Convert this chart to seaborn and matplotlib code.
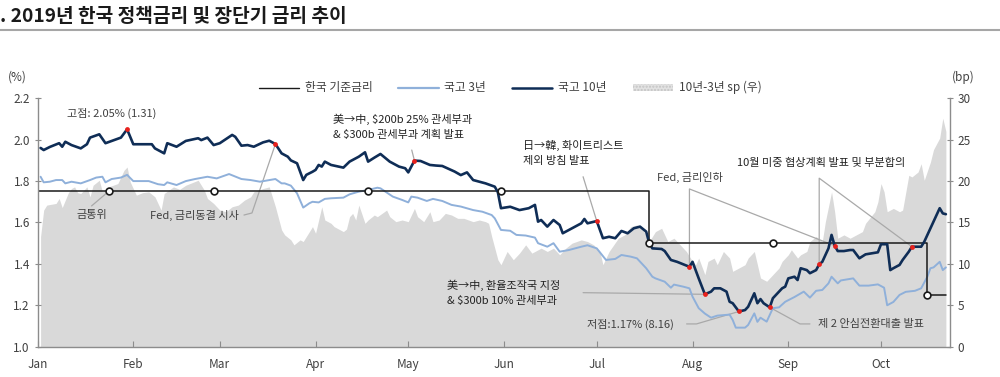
import numpy as np
import pandas as pd
import matplotlib
matplotlib.use('Agg')
import matplotlib.pyplot as plt
import matplotlib.dates as mdates
from matplotlib.lines import Line2D
from matplotlib.patches import Patch
from matplotlib.ticker import FormatStrFormatter
import seaborn as sns

sns.set_theme(style='white')
plt.rcParams['font.family'] = ['Noto Sans CJK KR', 'DejaVu Sans']
plt.rcParams['axes.unicode_minus'] = False

YEAR = '2019-'

# ---------------- data ----------------
ktb10_dates = ['01-02','01-03','01-05','01-08','01-09','01-10','01-12','01-15','01-17','01-18','01-21','01-23','01-25','01-28','01-30',
               '02-01','02-07','02-08','02-11','02-12','02-15','02-18','02-22','02-23','02-25','02-27',
               '03-01','03-05','03-06','03-08','03-10','03-12','03-15','03-17','03-19','03-21','03-23','03-24','03-26','03-28','03-29','03-31',
               '04-01','04-02','04-03','04-04','04-06','04-10','04-12','04-15','04-17','04-18','04-20','04-22','04-25','04-28','04-30',
               '05-01','05-03','05-05','05-08','05-10','05-12','05-16','05-18','05-20','05-22','05-24','05-26','05-29','05-30','05-31',
               '06-03','06-06','06-09','06-11','06-12','06-13','06-15','06-17','06-19','06-20','06-22','06-24','06-26','06-27','06-28',
               '07-01','07-03','07-05','07-07','07-09','07-11','07-13','07-15','07-17','07-18','07-19','07-22','07-23','07-25','07-27','07-31',
               '08-01','08-02','08-03','08-05','08-07','08-08','08-10','08-12','08-13','08-14','08-16','08-18','08-19','08-20','08-21','08-22',
               '08-23','08-24','08-26','08-27','08-28','08-30','08-31',
               '09-01','09-03','09-04','09-05','09-07','09-08','09-10','09-11','09-12','09-14','09-15','09-16','09-17','09-19','09-21','09-22',
               '09-24','09-26','09-28','09-30',
               '10-01','10-03','10-04','10-05','10-07','10-08','10-10','10-11','10-12','10-14','10-15','10-17','10-18','10-20','10-21','10-22']
ktb10_vals = [1.96,1.95,1.965,1.983,1.966,1.99,1.974,1.958,1.978,2.01,2.026,1.983,1.994,2.01,2.05,
              1.978,1.978,1.958,1.934,1.983,1.966,1.994,2.007,1.998,2.01,1.974,
              1.983,2.023,2.014,1.971,1.974,1.966,1.987,1.995,1.979,1.934,1.918,1.90,1.886,1.805,1.83,1.845,
              1.854,1.878,1.87,1.894,1.878,1.865,1.894,1.918,1.939,1.894,1.913,1.931,1.894,1.87,1.862,
              1.842,1.899,1.897,1.878,1.875,1.873,1.846,1.829,1.842,1.805,1.797,1.789,1.773,1.746,1.669,
              1.676,1.66,1.669,1.685,1.604,1.612,1.58,1.612,1.588,1.548,1.564,1.58,1.596,1.617,1.596,
              1.607,1.524,1.531,1.524,1.559,1.548,1.572,1.58,1.556,1.50,1.475,1.472,1.462,1.419,1.41,1.386,
              1.41,1.37,1.33,1.253,1.266,1.282,1.282,1.266,1.217,1.21,1.17,1.177,1.193,1.226,1.258,1.21,
              1.23,1.21,1.19,1.234,1.25,1.282,1.29,
              1.33,1.338,1.322,1.379,1.37,1.355,1.37,1.398,1.41,1.475,1.54,1.488,1.462,1.462,1.467,1.467,
              1.427,1.446,1.451,1.456,
              1.495,1.495,1.37,1.379,1.395,1.419,1.459,1.483,1.483,1.483,1.507,1.572,1.604,1.669,1.644,1.64]

ktb3_dates = ['01-02','01-03','01-05','01-07','01-09','01-10','01-12','01-15','01-18','01-20','01-22','01-23','01-25','01-28','01-30',
              '02-01','02-06','02-09','02-11','02-12','02-15','02-18','02-21','02-25','02-28',
              '03-04','03-08','03-11','03-14','03-17','03-19','03-21','03-22','03-24','03-26','03-28','03-30','03-31',
              '04-02','04-04','04-06','04-10','04-12','04-15','04-18','04-21','04-22','04-26','04-29',
              '05-01','05-02','05-04','05-07','05-09','05-12','05-15','05-18','05-22','05-25','05-28','05-29','05-31',
              '06-03','06-05','06-08','06-11','06-12','06-15','06-17','06-19','06-22','06-26','06-28',
              '07-01','07-04','07-07','07-09','07-12','07-14','07-17','07-19','07-20','07-23','07-25','07-26','07-29','07-31',
              '08-01','08-03','08-05','08-07','08-09','08-13','08-14','08-15','08-18','08-19','08-21','08-22','08-23','08-25','08-27','08-29','08-31',
              '09-03','09-06','09-08','09-10','09-12','09-14','09-15','09-17','09-18','09-22','09-24','09-27','09-30',
              '10-02','10-03','10-05','10-07','10-09','10-12','10-14','10-16','10-17','10-18','10-20','10-21','10-22']
ktb3_vals = [1.821,1.794,1.797,1.805,1.805,1.789,1.797,1.789,1.805,1.817,1.821,1.794,1.81,1.817,1.83,
             1.80,1.80,1.785,1.781,1.794,1.781,1.80,1.81,1.821,1.813,
             1.834,1.81,1.805,1.797,1.805,1.81,1.789,1.789,1.778,1.741,1.672,1.693,1.70,
             1.697,1.714,1.717,1.72,1.736,1.749,1.757,1.768,1.765,1.725,1.709,
             1.697,1.725,1.72,1.704,1.714,1.704,1.685,1.677,1.66,1.652,1.636,1.62,1.564,
             1.56,1.54,1.537,1.527,1.50,1.483,1.50,1.459,1.467,1.483,1.49,
             1.475,1.419,1.424,1.443,1.435,1.427,1.379,1.338,1.33,1.314,1.285,1.30,1.29,1.282,
             1.242,1.186,1.16,1.14,1.15,1.155,1.129,1.092,1.092,1.105,1.161,1.12,1.14,1.121,1.186,1.19,1.217,
             1.24,1.266,1.237,1.27,1.274,1.306,1.338,1.306,1.32,1.33,1.295,1.295,1.301,
             1.285,1.20,1.216,1.25,1.265,1.27,1.282,1.338,1.379,1.383,1.41,1.37,1.383]

spread_dates = ['01-02','01-03','01-04','01-07','01-08','01-09','01-11','01-12','01-13','01-14','01-15','01-17','01-18','01-19','01-21',
                '01-22','01-24','01-27','01-29','01-30','01-31',
                '02-02','02-04','02-06','02-08','02-10','02-11','02-14','02-16','02-18','02-20','02-22','02-24','02-25','02-27',
                '03-01','03-03','03-05','03-07','03-09','03-11','03-12','03-15','03-17','03-18','03-19','03-21','03-22','03-24','03-25',
                '03-27','03-28','03-29','03-31',
                '04-01','04-03','04-04','04-06','04-07','04-10','04-11','04-12','04-13','04-14','04-15','04-17','04-18','04-20','04-21',
                '04-24','04-25','04-27','04-29',
                '05-01','05-03','05-04','05-06','05-08','05-09','05-11','05-13','05-15','05-17','05-19','05-22','05-24','05-26','05-27',
                '05-28','05-30','05-31',
                '06-02','06-04','06-06','06-08','06-10','06-13','06-15','06-17','06-19','06-21','06-23','06-26','06-28','06-30',
                '07-02','07-03','07-05','07-08','07-10','07-12','07-14','07-16','07-18','07-20','07-22','07-23','07-24','07-26','07-28','07-30',
                '08-01','08-02','08-03','08-05','08-06','08-08','08-09','08-11','08-13','08-14','08-16','08-18','08-19','08-21','08-22',
                '08-23','08-25','08-27','08-29','08-30',
                '09-01','09-02','09-04','09-05','09-07','09-08','09-10','09-12','09-13','09-15','09-16','09-17','09-19','09-21','09-23',
                '09-25','09-26','09-29','09-30',
                '10-01','10-02','10-03','10-05','10-07','10-08','10-10','10-11','10-13','10-14','10-15','10-17','10-18','10-20','10-21','10-22']
spread_vals = [13.3,16.5,17.1,17.3,17.9,16.8,18.6,19.1,19.3,18.6,18.5,19.3,18.1,19.5,20.1,
               18.7,19.3,19.7,21.3,21.7,19.9,
               18.3,18.6,18.7,18.1,16.5,18.5,19.3,19.0,19.5,19.8,20.1,18.9,17.9,17.3,
               16.5,16.3,16.9,17.1,17.7,18.1,18.7,19.1,19.3,18.1,16.9,14.1,13.5,12.9,12.3,
               12.9,12.7,13.3,14.5,
               13.7,16.9,15.3,14.9,14.5,13.9,14.2,15.7,16.1,15.3,17.1,14.9,15.3,15.9,15.7,
               16.5,15.7,15.1,15.3,
               15.1,16.7,15.7,15.1,16.3,15.1,15.3,16.1,15.9,15.5,15.5,15.1,15.3,15.1,14.9,
               13.3,10.5,9.9,
               11.5,10.5,11.3,12.3,11.3,11.9,11.5,11.9,11.1,11.9,12.5,12.9,12.7,12.3,
               11.5,9.9,11.5,13.1,13.5,14.5,14.7,14.1,12.7,13.9,14.3,13.5,12.7,13.1,12.3,11.5,
               10.3,9.9,10.7,8.7,10.3,10.7,9.9,11.5,10.7,9.1,9.5,9.9,10.7,11.5,9.9,
               8.3,7.9,8.7,9.5,10.3,
               11.1,11.7,10.7,11.1,11.5,12.7,13.3,12.7,15.1,18.7,16.3,13.1,13.5,13.1,13.5,
               13.9,14.9,16.3,17.5,
               19.7,18.7,16.3,16.7,16.3,16.5,20.7,20.5,21.1,22.1,20.1,22.3,23.8,25.2,27.6,26.0]

policy_dates = ['01-01', '07-18', '10-16', '10-22']
policy_vals = [1.75, 1.50, 1.25, 1.25]

mpc_dates = ['01-24', '02-27', '04-18', '05-31', '07-18', '08-27', '10-16']   # 금통위
event_dates = ['01-30', '03-19', '05-03', '07-01', '07-31', '08-05', '08-16', '08-26', '09-11', '09-16', '10-11']

left_ticks = [1.0, 1.2, 1.4, 1.6, 1.8, 2.0, 2.2]
right_ticks = [0, 5, 10, 15, 20, 25, 30]

legend_labels = ['한국 기준금리', '국고 3년', '국고 10년', '10년-3년 sp (우)']
title_text = '. 2019년 한국 정책금리 및 장단기 금리 추이'

# ---------------- helpers ----------------
def T(s):
    return pd.Timestamp(YEAR + s)

k10_dt = pd.to_datetime([YEAR + d for d in ktb10_dates])
k3_dt = pd.to_datetime([YEAR + d for d in ktb3_dates])
sp_dt = pd.to_datetime([YEAR + d for d in spread_dates])
pol_dt = pd.to_datetime([YEAR + d for d in policy_dates])
mpc_dt = pd.to_datetime([YEAR + d for d in mpc_dates])
ev_dt = pd.to_datetime([YEAR + d for d in event_dates])

s10 = pd.Series(ktb10_vals, index=k10_dt)
spol = pd.Series(policy_vals, index=pol_dt)
mpc_vals = [spol.asof(d) for d in mpc_dt]
ev_vals = [s10.loc[d] for d in ev_dt]
EV = {d: (t, v) for d, t, v in zip(event_dates, ev_dt, ev_vals)}

C10 = '#0f2d56'
C3 = '#8fb0da'
CPOL = '#1a1a1a'
CSP = '#d9d9d9'
LEAD = '#a9a9a9'
TXT = '#404040'
SPINE = '#8c8c8c'

# ---------------- figure ----------------
fig = plt.figure(figsize=(10, 3.77), dpi=100)
ax = fig.add_axes([0.0375, 0.0804, 0.9125, 0.6589])
ax2 = ax.twinx()
ax.set_zorder(ax2.get_zorder() + 1)
ax.patch.set_visible(False)

ax2.fill_between(sp_dt, 0, spread_vals, color=CSP, lw=0)
ax2.set_ylim(0, 30)
ax2.set_yticks(right_ticks)

sns.lineplot(x=k3_dt, y=ktb3_vals, ax=ax, color=C3, lw=1.4, zorder=2)
sns.lineplot(x=pol_dt, y=policy_vals, ax=ax, color=CPOL, lw=1.1, drawstyle='steps-post', zorder=2.5)
sns.lineplot(x=k10_dt, y=ktb10_vals, ax=ax, color=C10, lw=1.9, zorder=3)

# leader lines
def leader(pts):
    ax.plot([p[0] for p in pts], [p[1] for p in pts], color=LEAD, lw=0.9, zorder=1.8)

leader([(T('01-18 12:00'), 1.680), (mpc_dt[0], mpc_vals[0])])
leader([(T('03-08 20:00'), 1.636), (T('03-11 10:00'), 1.646), EV['03-19']])
leader([(T('05-02 03:00'), 1.950), EV['05-03']])
leader([(T('06-26 14:00'), 1.821), EV['07-01']])
leader([EV['07-31'], (EV['07-31'][0], 1.762), EV['09-16']])
leader([EV['09-11'], (EV['09-11'][0], 1.814), EV['10-11']])
leader([(T('06-26 14:00'), 1.261), EV['08-05']])
leader([(T('07-30 02:00'), 1.110), (T('08-02 07:00'), 1.110), EV['08-16']])
leader([(T('09-08'), 1.110), (T('09-04 19:00'), 1.110), EV['08-26']])

sns.scatterplot(x=mpc_dt, y=mpc_vals, ax=ax, marker='o', s=24, color='white',
                edgecolor=CPOL, linewidth=1.2, zorder=6)
sns.scatterplot(x=ev_dt, y=ev_vals, ax=ax, marker='o', s=12, color='#e8211c',
                linewidth=0, zorder=7)

# annotation texts
fs = 8
ax.text(T('01-10 12:00'), 2.129, '고점: 2.05% (1.31)', fontsize=fs, color=TXT, ha='left', va='center')
ax.text(T('01-13 18:00'), 1.636, '금통위', fontsize=fs, color=TXT, ha='left', va='center')
ax.text(T('02-06 10:00'), 1.636, 'Fed, 금리동결 시사', fontsize=fs, color=TXT, ha='left', va='center')
ax.text(T('04-06 14:00'), 2.061, '美→中, \\$200b 25% 관세부과\n& \\$300b 관세부과 계획 발표',
        fontsize=fs, color='#222222', ha='left', va='center', linespacing=1.65)
ax.text(T('06-07 05:00'), 1.935, '日→韓, 화이트리스트\n제외 방침 발표',
        fontsize=fs, color='#222222', ha='left', va='center', linespacing=1.65)
ax.text(T('07-20 10:00'), 1.816, 'Fed, 금리인하', fontsize=fs, color=TXT, ha='left', va='center')
ax.text(T('08-15 08:00'), 1.886, '10월 미중 협상계획 발표 및 부분합의', fontsize=fs, color='#222222', ha='left', va='center')
ax.text(T('05-13 10:00'), 1.262, '美→中, 환율조작국 지정\n& \\$300b 10% 관세부과',
        fontsize=fs, color='#222222', ha='left', va='center', linespacing=1.65)
ax.text(T('06-27 17:00'), 1.108, '저점:1.17% (8.16)', fontsize=fs, color=TXT, ha='left', va='center')
ax.text(T('09-10 17:00'), 1.108, '제 2 안심전환대출 발표', fontsize=fs, color=TXT, ha='left', va='center')

# axes formatting
ax.set_xlim(T('01-01'), T('10-23 08:00'))
ax.set_ylim(1.0, 2.2)
ax.set_yticks(left_ticks)
ax.yaxis.set_major_formatter(FormatStrFormatter('%.1f'))
ax.xaxis.set_major_locator(mdates.MonthLocator())
ax.xaxis.set_major_formatter(mdates.DateFormatter('%b'))
ax.set_xlabel('')
ax.set_ylabel('')
ax2.set_ylabel('')
ax.grid(False)
ax2.grid(False)

for sp in ['top', 'right']:
    ax.spines[sp].set_visible(False)
for sp in ['top', 'left', 'bottom']:
    ax2.spines[sp].set_visible(False)
for a, sp in [(ax, 'left'), (ax, 'bottom'), (ax2, 'right')]:
    a.spines[sp].set_color(SPINE)
    a.spines[sp].set_linewidth(1.0)

ax.tick_params(axis='y', direction='inout', length=5, width=0.8, color=SPINE,
               labelsize=8.5, labelcolor=TXT, pad=3, left=True)
ax.tick_params(axis='x', direction='in', length=4, width=0.8, color=SPINE,
               labelsize=8.5, labelcolor=TXT, pad=8, bottom=True)
ax2.tick_params(axis='y', direction='inout', length=5, width=0.8, color=SPINE,
                labelsize=8.5, labelcolor=TXT, pad=3, right=True)

# title, units, legend
fig.text(0.0, 0.955, title_text, fontsize=13.8, fontweight='bold', color='#1a1a1a', ha='left', va='center')
fig.add_artist(Line2D([0, 1], [0.921, 0.921], transform=fig.transFigure, color='#a6a6a6', lw=1.5))
fig.text(0.008, 0.796, '(%)', fontsize=8.5, color=TXT, ha='left', va='center')
fig.text(0.952, 0.796, '(bp)', fontsize=8.5, color=TXT, ha='left', va='center')

handles = [Line2D([], [], color=CPOL, lw=1.0),
           Line2D([], [], color=C3, lw=1.6),
           Line2D([], [], color=C10, lw=1.8),
           Patch(facecolor='#e2e2e2', edgecolor='#c4c4c4', hatch='.....', lw=0)]
fig.legend(handles, legend_labels, loc='center', bbox_to_anchor=(0.51, 0.767), ncol=4,
           frameon=False, fontsize=8.5, handlelength=3.4, handleheight=0.5, handletextpad=0.5,
           columnspacing=2.2, labelcolor=TXT)

fig.savefig('out.png', dpi=100)
